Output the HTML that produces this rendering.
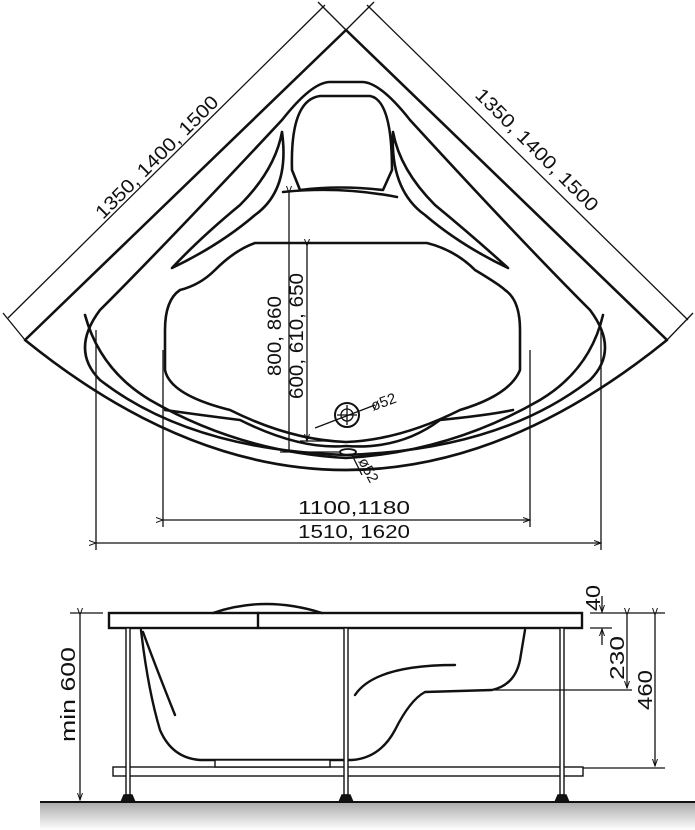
<!DOCTYPE html>
<html><head><meta charset="utf-8"><style>
html,body{margin:0;padding:0;background:#fff}
svg{display:block}
text{font-family:"Liberation Sans",sans-serif;fill:#111}
</style></head><body>
<svg width="695" height="830" viewBox="0 0 695 830" xmlns="http://www.w3.org/2000/svg">
<defs>
<linearGradient id="g" x1="0" y1="0" x2="0" y2="1"><stop offset="0" stop-color="#aaa"/><stop offset="1" stop-color="#fff"/></linearGradient>
<marker id="a" markerWidth="8" markerHeight="8" refX="7" refY="4" orient="auto" markerUnits="userSpaceOnUse"><path d="M0,1.5 L7,4 L0,6.5" fill="none" stroke="#111" stroke-width="1"/></marker>
</defs>
<g fill="none" stroke="#111" stroke-width="2.6" stroke-linecap="round" stroke-linejoin="round">
<path d="M346,30 L25,340 Q346,600 667,340 Z"/>
<path d="M330,82 L362,82 Q380,82 410,120 Q520,240 590,310 Q620,350 590,380 Q500,450 346,455 Q190,450 100,380 Q70,350 100,310 Q170,240 282,120 Q312,82 330,82 Z"/>
<path d="M300,190 L292,170 Q290,100 320,96 L370,96 Q392,100 392,170 L383,190 Q340,185 300,190"/>
<path d="M283,192 Q340,186 397,197"/>
<path d="M282,132 Q275,170 240,205 Q200,238 172,268 Q220,245 255,215 Q290,190 282,132"/>
<path d="M393,132 Q400,170 435,205 Q475,238 508,268 Q460,245 425,215 Q390,190 393,132"/>
<path d="M255,243 L427,243 Q455,250 475,270 Q500,285 505,290 Q520,300 520,330 L520,370 Q510,395 460,410 Q400,440 346,442 Q290,440 230,410 Q170,395 165,370 L165,330 Q165,300 180,290 Q200,285 215,270 Q235,250 255,243 Z"/>
<path d="M165,410 Q200,415 240,420 Q300,450 346,446 Q400,450 440,420 Q490,415 513,410"/>
<path d="M85,315 Q100,370 150,400 Q240,452 346,458 Q450,452 540,400 Q590,370 603,315"/>
</g>
<g fill="none" stroke="#111" stroke-width="1.3">
<line x1="8" y1="318" x2="325" y2="5"/>
<line x1="367" y1="5" x2="688" y2="320"/>
<line x1="25" y1="340" x2="3" y2="313"/>
<line x1="346" y1="30" x2="318" y2="2"/>
<line x1="346" y1="30" x2="374" y2="2"/>
<line x1="667" y1="340" x2="693" y2="313"/>
<line x1="96" y1="330" x2="96" y2="550"/>
<line x1="163" y1="350" x2="163" y2="527"/>
<line x1="530" y1="350" x2="530" y2="527"/>
<line x1="601" y1="330" x2="601" y2="550"/>
<line x1="163" y1="520" x2="530" y2="520" marker-start="url(#a)" marker-end="url(#a)"/>
<line x1="96" y1="543" x2="601" y2="543" marker-start="url(#a)" marker-end="url(#a)"/>
<line x1="289" y1="193" x2="289" y2="452" marker-start="url(#a)"/>
<line x1="307" y1="246" x2="307" y2="441" marker-start="url(#a)" marker-end="url(#a)"/>
<line x1="280" y1="452" x2="340" y2="452"/>
<line x1="300" y1="441" x2="330" y2="441"/>
<circle cx="347" cy="415" r="12" stroke-width="2"/>
<circle cx="347" cy="415" r="6"/>
<line x1="337" y1="415" x2="357" y2="415"/><line x1="347" y1="405" x2="347" y2="425"/>
<line x1="315" y1="428" x2="375" y2="405"/>
<ellipse cx="348" cy="452" rx="8" ry="3" stroke-width="1.8"/>
<line x1="352" y1="455" x2="362" y2="475"/>
</g>
<text font-size="19" textLength="165" lengthAdjust="spacingAndGlyphs" transform="translate(103,220) rotate(-45)">1350, 1400, 1500</text>
<text font-size="19" textLength="165" lengthAdjust="spacingAndGlyphs" transform="translate(474,96) rotate(45)">1350, 1400, 1500</text>
<text x="298" y="514" font-size="18" textLength="112" lengthAdjust="spacingAndGlyphs">1100,1180</text>
<text x="298" y="538" font-size="18" textLength="112" lengthAdjust="spacingAndGlyphs">1510, 1620</text>
<text font-size="19" textLength="80" lengthAdjust="spacingAndGlyphs" transform="translate(281,376) rotate(-90)">800, 860</text>
<text font-size="19" textLength="126" lengthAdjust="spacingAndGlyphs" transform="translate(303,399) rotate(-90)">600, 610, 650</text>
<text font-size="15" transform="translate(373,411) rotate(-20)">ø52</text>
<text font-size="15" transform="translate(358,461) rotate(62)">ø52</text>

<rect x="40" y="802" width="655" height="28" fill="url(#g)"/>
<line x1="40" y1="802" x2="695" y2="802" stroke="#111" stroke-width="2"/>
<g fill="none" stroke="#111" stroke-width="2.4" stroke-linecap="round">
<rect x="109" y="613" width="473" height="15" fill="#fff"/>
<line x1="258" y1="613" x2="258" y2="628"/>
<path d="M213,613 Q265,595 322,613"/>
<path d="M141,630 Q148,690 160,730 Q172,758 200,760 L352,760 Q380,758 395,730 Q410,700 425,692 L492,690 Q515,685 520,660 L525,630"/>
<path d="M355,695 Q375,665 455,665"/>
<path d="M143,632 Q155,665 175,715"/>
</g>
<g fill="#fff" stroke="#111" stroke-width="1.4">
<rect x="113" y="767" width="470" height="9"/>
<rect x="215" y="760" width="115" height="7"/>
<rect x="126" y="628" width="4" height="167"/>
<rect x="344" y="628" width="4" height="167"/>
<rect x="560" y="628" width="4" height="167"/>
<path d="M121,802 L124,795 L132,795 L135,802 Z" fill="#111"/>
<path d="M339,802 L342,795 L350,795 L353,802 Z" fill="#111"/>
<path d="M555,802 L558,795 L566,795 L569,802 Z" fill="#111"/>
</g>
<g fill="none" stroke="#111" stroke-width="1.3">
<line x1="70" y1="613" x2="103" y2="613"/>
<line x1="80" y1="615" x2="80" y2="800" marker-start="url(#a)" marker-end="url(#a)"/>
<line x1="590" y1="613" x2="665" y2="613"/>
<line x1="583" y1="768" x2="665" y2="768"/>
<line x1="495" y1="690" x2="632" y2="690"/>
<line x1="590" y1="628" x2="612" y2="628"/>
<line x1="655" y1="615" x2="655" y2="766" marker-start="url(#a)" marker-end="url(#a)"/>
<line x1="627" y1="615" x2="627" y2="688" marker-start="url(#a)" marker-end="url(#a)"/>
<line x1="602" y1="596" x2="602" y2="612" marker-end="url(#a)"/>
<line x1="602" y1="645" x2="602" y2="629" marker-end="url(#a)"/>
</g>
<text font-size="20" textLength="95" lengthAdjust="spacingAndGlyphs" transform="translate(75,742) rotate(-90)">min 600</text>
<text font-size="20" textLength="26" lengthAdjust="spacingAndGlyphs" transform="translate(600,611) rotate(-90)">40</text>
<text font-size="20" textLength="44" lengthAdjust="spacingAndGlyphs" transform="translate(624,680) rotate(-90)">230</text>
<text font-size="20" textLength="40" lengthAdjust="spacingAndGlyphs" transform="translate(652,710) rotate(-90)">460</text>
</svg>
</body></html>
